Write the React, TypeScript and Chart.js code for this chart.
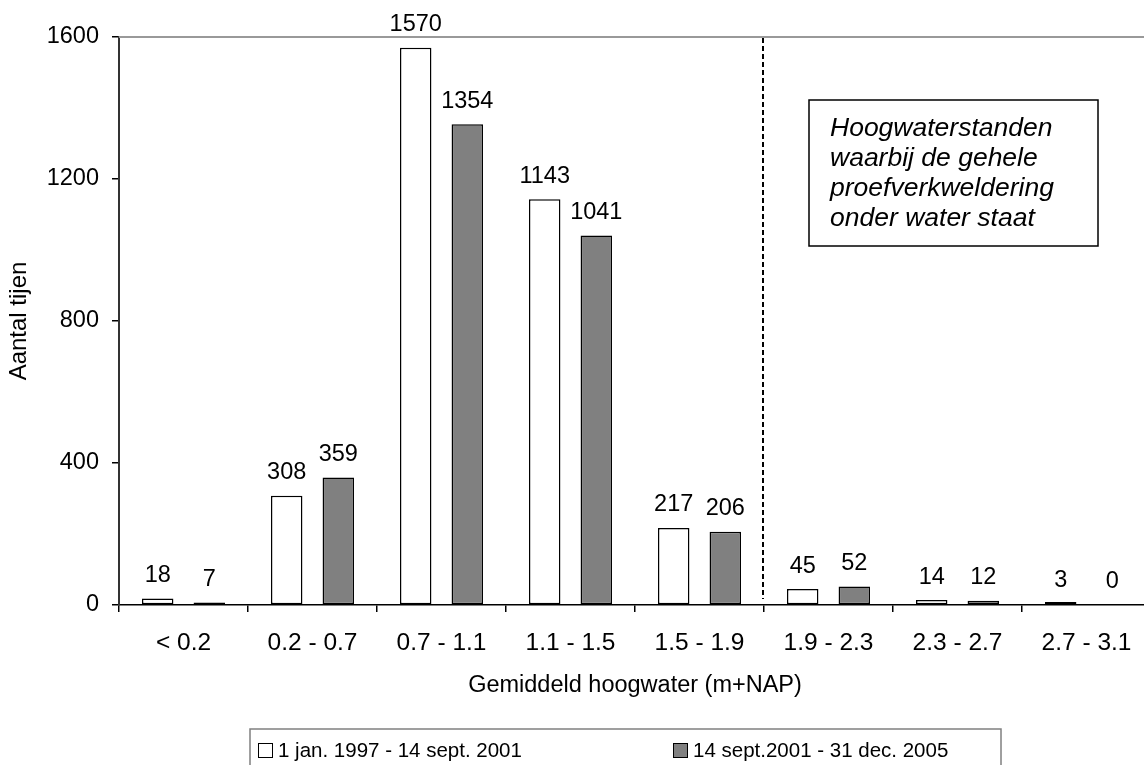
import React, { useEffect, useRef } from 'react';
import { Chart, registerables } from 'chart.js';

Chart.register(...registerables);

const FONT = '"Liberation Sans", Arial, Helvetica, sans-serif';

const categories = ['< 0.2', '0.2 - 0.7', '0.7 - 1.1', '1.1 - 1.5', '1.5 - 1.9', '1.9 - 2.3', '2.3 - 2.7', '2.7 - 3.1'];
const seriesA = [18, 308, 1570, 1143, 217, 45, 14, 3];
const seriesB = [7, 359, 1354, 1041, 206, 52, 12, 0];
const seriesLabels = ['1 jan. 1997 - 14 sept. 2001', '14 sept.2001 - 31 dec. 2005'];
const seriesColors = ['#ffffff', '#808080'];
const yTicks = [0, 400, 800, 1200, 1600];
const xTitle = 'Gemiddeld hoogwater (m+NAP)';
const yTitle = 'Aantal tijen';
const noteLines = ['Hoogwaterstanden', 'waarbij de gehele', 'proefverkweldering', 'onder water staat'];

const overlay = {
  id: 'overlay',
  afterDatasetsDraw(chart: any) {
    const ctx = chart.ctx;
    const area = chart.chartArea;
    const xs = chart.scales.x;
    ctx.save();
    // top border of plot area
    ctx.strokeStyle = '#999999';
    ctx.lineWidth = 2;
    ctx.beginPath();
    ctx.moveTo(area.left, area.top);
    ctx.lineTo(area.right, area.top);
    ctx.stroke();

    // dashed separator between 1.5-1.9 and 1.9-2.3
    const xd = Math.round((xs.getPixelForValue(4) + xs.getPixelForValue(5)) / 2) - 1;
    ctx.strokeStyle = '#000';
    ctx.lineWidth = 2;
    ctx.setLineDash([5, 3]);
    ctx.beginPath();
    ctx.moveTo(xd, area.top + 1);
    ctx.lineTo(xd, area.bottom - 6);
    ctx.stroke();
    ctx.setLineDash([]);

    // data labels
    ctx.fillStyle = '#000';
    ctx.font = `23.5px ${FONT}`;
    ctx.textAlign = 'center';
    ctx.textBaseline = 'middle';
    chart.data.datasets.forEach((ds: any, di: number) => {
      const meta = chart.getDatasetMeta(di);
      meta.data.forEach((el: any, i: number) => {
        const base = chart.scales.y.getPixelForValue(ds.data[i]);
        ctx.fillText(String(ds.data[i]), el.x, base - 23);
      });
    });

    // annotation box
    ctx.fillStyle = '#fff';
    ctx.fillRect(809, 100, 289, 146);
    ctx.strokeStyle = '#000';
    ctx.lineWidth = 1.5;
    ctx.strokeRect(809, 100, 289, 146);
    ctx.fillStyle = '#000';
    ctx.font = `italic 26.5px ${FONT}`;
    ctx.textAlign = 'left';
    noteLines.forEach((t, i) => ctx.fillText(t, 830, 129 + i * 30));

    // axis titles
    ctx.font = `23.5px ${FONT}`;
    ctx.textAlign = 'center';
    ctx.fillText(xTitle, (area.left + area.right) / 2, 686);
    ctx.save();
    ctx.font = `24px ${FONT}`;
    ctx.translate(19, (area.top + area.bottom) / 2);
    ctx.rotate(-Math.PI / 2);
    ctx.fillText(yTitle, 0, 0);
    ctx.restore();

    // legend
    ctx.strokeStyle = '#808080';
    ctx.lineWidth = 1.5;
    ctx.strokeRect(250, 729, 751, 60);
    const itemX = [258, 673];
    ctx.font = `20.5px ${FONT}`;
    ctx.textAlign = 'left';
    chart.data.datasets.forEach((ds: any, di: number) => {
      const x = itemX[di];
      ctx.fillStyle = seriesColors[di];
      ctx.fillRect(x, 743, 14, 14);
      ctx.strokeStyle = '#000';
      ctx.lineWidth = 1;
      ctx.strokeRect(x + 0.5, 743.5, 14, 14);
      ctx.fillStyle = '#000';
      ctx.fillText(ds.label, x + 20, 751);
    });
    ctx.restore();
  },
};

export default function App() {
  const ref = useRef<HTMLCanvasElement>(null);
  useEffect(() => {
    const canvas = ref.current!;
    const makeDs = (label: string, data: number[], color: string, minLen: number) => ({
      label,
      data,
      backgroundColor: (c: any) => (c.raw > 0 && c.raw < 8 && color === '#ffffff' ? '#000' : color),
      borderColor: '#000',
      borderWidth: (c: any) => (c.raw === 0 ? 0 : 1.5),
      borderSkipped: false,
      minBarLength: minLen,
      categoryPercentage: 0.8,
      barPercentage: 0.61,
    });
    const chart = new Chart(canvas, {
      type: 'bar',
      data: {
        labels: categories,
        datasets: [
          makeDs(seriesLabels[0], seriesA, seriesColors[0], 3),
          makeDs(seriesLabels[1], seriesB, seriesColors[1], 0),
        ],
      },
      options: {
        responsive: false,
        animation: false,
        devicePixelRatio: 1,
        layout: { padding: { left: 0, top: 37, right: 19, bottom: 135 } },
        plugins: { legend: { display: false }, tooltip: { enabled: false } },
        scales: {
          x: {
            offset: true,
            grid: { offset: true, drawOnChartArea: false, drawTicks: true, tickLength: 7, color: '#000', lineWidth: 1.5 },
            border: { display: true, color: '#000', width: 1.5 },
            ticks: { font: { family: FONT, size: 24.5 }, color: '#000', padding: 17, maxRotation: 0, autoSkip: false },
            afterFit: (s: any) => { s.height = 60; },
          },
          y: {
            min: 0,
            max: 1600,
            afterBuildTicks: (s: any) => { s.ticks = yTicks.map((v) => ({ value: v })); },
            grid: { drawOnChartArea: false, drawTicks: true, tickLength: 7, color: '#000', lineWidth: 1.5 },
            border: { display: true, color: '#333', width: 2 },
            ticks: { font: { family: FONT, size: 23.5 }, color: '#000', padding: 13, callback: (v: any) => String(v) },
            afterFit: (s: any) => { s.width = 119; },
          },
        },
      } as any,
      plugins: [overlay],
    });
    return () => chart.destroy();
  }, []);
  return (
    <div style={{ position: 'absolute', left: 0, top: 0, width: 1144, height: 765, overflow: 'hidden', background: '#fff' }}>
      <canvas ref={ref} width={1170} height={800} style={{ display: 'block', width: 1170, height: 800 }} />
    </div>
  );
}
